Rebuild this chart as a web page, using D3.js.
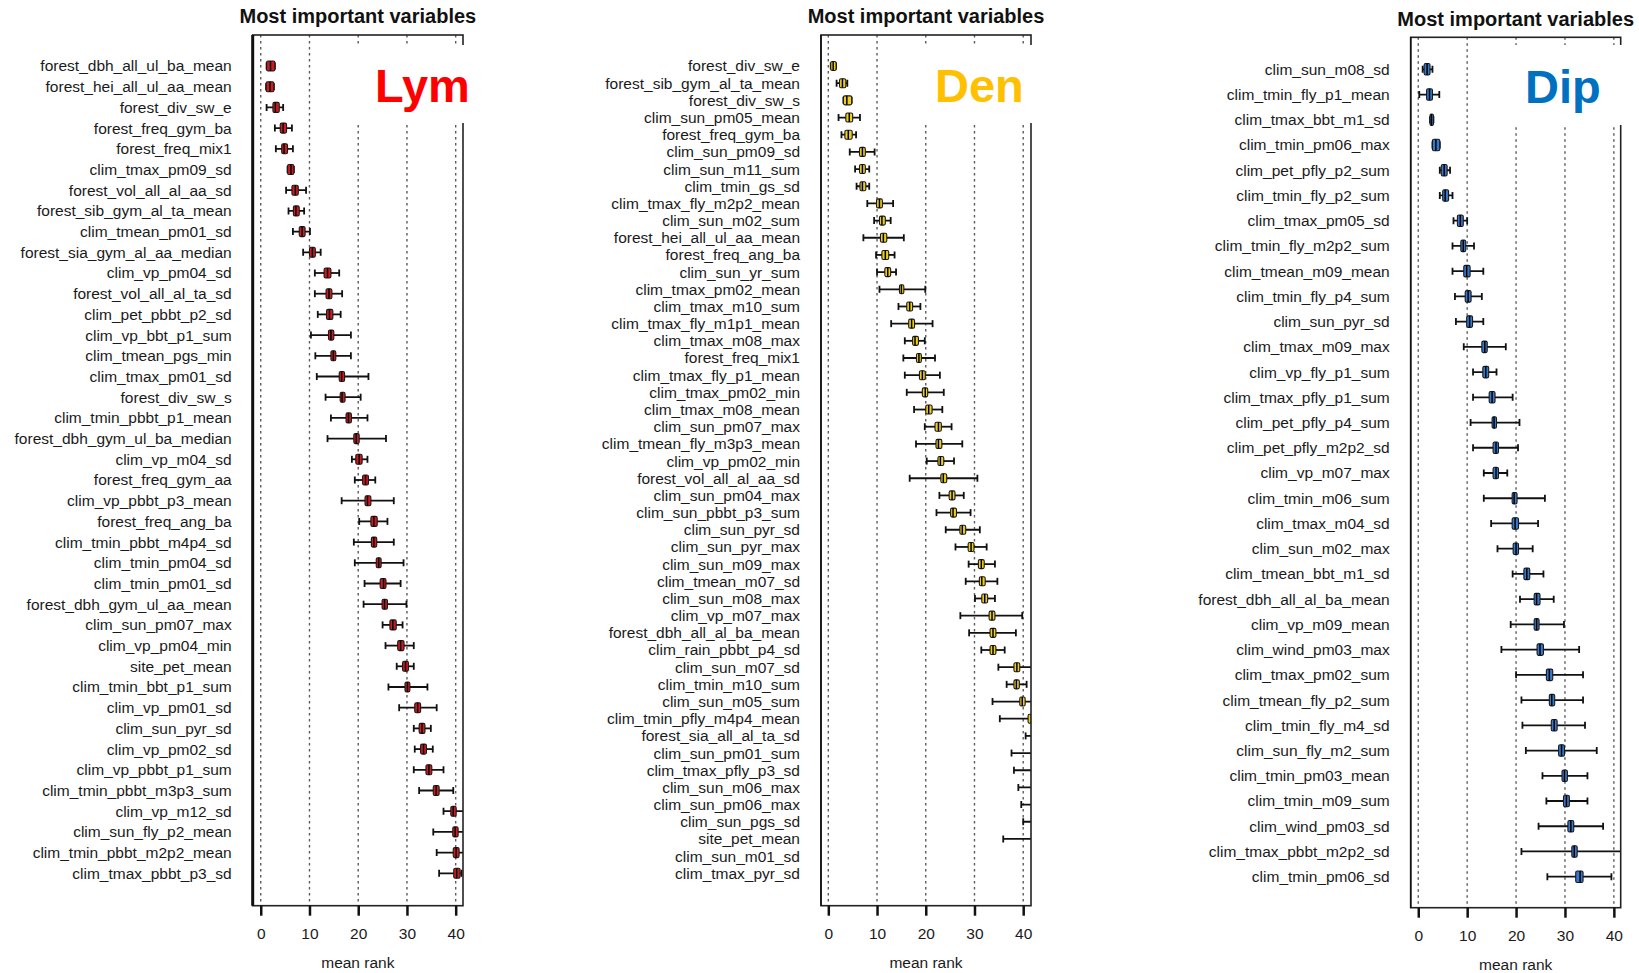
<!DOCTYPE html>
<html>
<head>
<meta charset="utf-8">
<script src="https://cdn.jsdelivr.net/npm/d3@7"></script>
<style>
	body { margin: 0; background: #fff; }
	svg { display: block; font-family: "Liberation Sans", Arial, sans-serif; }
	.lab text { fill: #1a1a1a; font-size: 15.5px; }
	.xax text { fill: #1a1a1a; font-size: 15.5px; }
</style>
</head>
<body>
<div id="chartDiv"></div>
<script>
;(function() {

	var width = 1639;
	var height = 973;

	var rankTicks = [0, 10, 20, 30, 40];

	// stats rows: [whisker low, q1, median, q3, whisker high]
	var lymLabels = ["forest_dbh_all_ul_ba_mean", "forest_hei_all_ul_aa_mean", "forest_div_sw_e", "forest_freq_gym_ba",
		"forest_freq_mix1", "clim_tmax_pm09_sd", "forest_vol_all_al_aa_sd", "forest_sib_gym_al_ta_mean",
		"clim_tmean_pm01_sd", "forest_sia_gym_al_aa_median", "clim_vp_pm04_sd", "forest_vol_all_al_ta_sd",
		"clim_pet_pbbt_p2_sd", "clim_vp_bbt_p1_sum", "clim_tmean_pgs_min", "clim_tmax_pm01_sd",
		"forest_div_sw_s", "clim_tmin_pbbt_p1_mean", "forest_dbh_gym_ul_ba_median", "clim_vp_m04_sd",
		"forest_freq_gym_aa", "clim_vp_pbbt_p3_mean", "forest_freq_ang_ba", "clim_tmin_pbbt_m4p4_sd",
		"clim_tmin_pm04_sd", "clim_tmin_pm01_sd", "forest_dbh_gym_ul_aa_mean", "clim_sun_pm07_max",
		"clim_vp_pm04_min", "site_pet_mean", "clim_tmin_bbt_p1_sum", "clim_vp_pm01_sd",
		"clim_sun_pyr_sd", "clim_vp_pm02_sd", "clim_vp_pbbt_p1_sum", "clim_tmin_pbbt_m3p3_sum",
		"clim_vp_m12_sd", "clim_sun_fly_p2_mean", "clim_tmin_pbbt_m2p2_mean", "clim_tmax_pbbt_p3_sd"];
	var lymStats = [
		[1.2, 1.2, 2.0, 2.9, 2.9], [1.1, 1.1, 1.9, 2.7, 2.7], [1.2, 2.5, 3.0, 3.8, 4.6], [2.9, 4.0, 4.6, 5.3, 6.4],
		[3.1, 4.3, 4.8, 5.5, 6.6], [5.5, 5.5, 6.2, 6.8, 6.8], [5.2, 6.4, 7.1, 7.7, 9.3], [5.7, 6.7, 7.2, 7.9, 8.9],
		[6.6, 7.9, 8.5, 9.1, 10.1], [8.7, 10.0, 10.6, 11.2, 12.3], [11.1, 13.0, 13.7, 14.4, 16.1], [11.1, 13.4, 14.0, 14.6, 16.7],
		[11.7, 13.5, 14.1, 14.8, 16.4], [10.3, 13.9, 14.4, 15.0, 18.5], [11.2, 14.4, 14.9, 15.4, 18.5], [11.5, 16.1, 16.6, 17.2, 22.1],
		[13.3, 16.3, 16.7, 17.3, 20.5], [14.4, 17.5, 18.0, 18.6, 21.9], [13.7, 19.1, 19.6, 20.2, 25.7], [18.7, 19.5, 20.2, 20.8, 21.9],
		[19.3, 20.9, 21.5, 22.1, 23.5], [16.6, 21.4, 21.9, 22.6, 27.3], [20.2, 22.6, 23.2, 23.9, 26.0], [19.1, 22.7, 23.2, 23.8, 27.3],
		[19.3, 23.7, 24.2, 24.7, 29.3], [21.3, 24.5, 25.2, 25.7, 28.7], [21.1, 24.9, 25.4, 26.0, 29.9], [25.0, 26.5, 27.1, 27.8, 29.1],
		[25.6, 28.1, 28.7, 29.4, 31.4], [27.9, 29.1, 29.7, 30.3, 31.4], [26.2, 29.6, 30.1, 30.6, 34.2], [28.4, 31.6, 32.2, 32.8, 36.1],
		[31.4, 32.5, 33.1, 33.7, 34.9], [31.6, 32.8, 33.4, 34.0, 35.3], [31.4, 33.9, 34.5, 35.1, 37.5], [32.5, 35.4, 36.0, 36.6, 39.5],
		[37.5, 39.0, 39.5, 40.1, 42.5], [35.4, 39.4, 39.9, 40.5, 42.5], [36.1, 39.5, 40.1, 40.7, 42.5], [36.6, 39.6, 40.2, 40.9, 41.2]];

	var denLabels = ["forest_div_sw_e", "forest_sib_gym_al_ta_mean", "forest_div_sw_s", "clim_sun_pm05_mean",
		"forest_freq_gym_ba", "clim_sun_pm09_sd", "clim_sun_m11_sum", "clim_tmin_gs_sd",
		"clim_tmax_fly_m2p2_mean", "clim_sun_m02_sum", "forest_hei_all_ul_aa_mean", "forest_freq_ang_ba",
		"clim_sun_yr_sum", "clim_tmax_pm02_mean", "clim_tmax_m10_sum", "clim_tmax_fly_m1p1_mean",
		"clim_tmax_m08_max", "forest_freq_mix1", "clim_tmax_fly_p1_mean", "clim_tmax_pm02_min",
		"clim_tmax_m08_mean", "clim_sun_pm07_max", "clim_tmean_fly_m3p3_mean", "clim_vp_pm02_min",
		"forest_vol_all_al_aa_sd", "clim_sun_pm04_max", "clim_sun_pbbt_p3_sum", "clim_sun_pyr_sd",
		"clim_sun_pyr_max", "clim_sun_m09_max", "clim_tmean_m07_sd", "clim_sun_m08_max",
		"clim_vp_m07_max", "forest_dbh_all_al_ba_mean", "clim_rain_pbbt_p4_sd", "clim_sun_m07_sd",
		"clim_tmin_m10_sum", "clim_sun_m05_sum", "clim_tmin_pfly_m4p4_mean", "forest_sia_all_al_ta_sd",
		"clim_sun_pm01_sum", "clim_tmax_pfly_p3_sd", "clim_sun_m06_max", "clim_sun_pm06_max",
		"clim_sun_pgs_sd", "site_pet_mean", "clim_sun_m01_sd", "clim_tmax_pyr_sd"];
	var denStats = [
		[0.5, 0.5, 1.0, 1.6, 1.6], [1.7, 2.3, 2.9, 3.6, 3.9], [3.1, 3.1, 3.8, 4.8, 4.8], [2.1, 3.6, 4.3, 5.0, 6.5],
		[2.7, 3.4, 4.1, 4.9, 5.7], [4.4, 6.4, 7.0, 7.6, 9.5], [5.5, 6.4, 7.0, 7.6, 8.4], [5.8, 6.5, 7.0, 7.7, 8.4],
		[8.0, 9.9, 10.5, 11.1, 13.3], [9.4, 10.5, 11.0, 11.7, 12.8], [7.2, 10.7, 11.3, 12.0, 15.5], [9.8, 11.0, 11.7, 12.4, 13.6],
		[10.0, 11.6, 12.2, 12.8, 13.9], [10.5, 14.6, 15.0, 15.5, 19.9], [14.4, 16.1, 16.7, 17.3, 18.9], [12.9, 16.5, 17.1, 17.7, 21.4],
		[15.7, 17.3, 17.8, 18.5, 19.8], [15.4, 18.1, 18.6, 19.1, 21.9], [15.7, 18.7, 19.3, 19.9, 22.9], [16.1, 19.3, 19.9, 20.4, 23.7],
		[17.6, 20.0, 20.6, 21.3, 23.4], [19.8, 21.9, 22.6, 23.2, 25.3], [18.0, 22.1, 22.6, 23.3, 27.5], [20.2, 22.5, 23.0, 23.7, 25.8],
		[16.7, 23.1, 23.6, 24.3, 30.6], [22.8, 24.8, 25.4, 26.0, 27.8], [22.2, 25.1, 25.6, 26.3, 29.2], [24.1, 27.0, 27.5, 28.2, 31.1],
		[26.1, 28.7, 29.3, 29.9, 32.5], [28.8, 30.8, 31.4, 32.0, 34.2], [28.2, 31.0, 31.5, 32.2, 34.7], [30.1, 31.5, 32.1, 32.7, 34.2],
		[27.1, 33.0, 33.6, 34.2, 39.8], [28.9, 33.2, 33.8, 34.4, 38.5], [31.4, 33.2, 33.8, 34.4, 36.2], [34.9, 38.1, 38.7, 39.3, 42.5],
		[36.6, 38.1, 38.6, 39.2, 40.7], [33.7, 39.3, 39.8, 40.4, 42.0], [35.2, 41.0, 41.7, 42.5, 43.5], [40.5, 42.0, 43.0, 44.0, 45.0],
		[37.6, 43.0, 44.0, 45.0, 46.0], [38.1, 43.5, 44.5, 45.5, 46.5], [39.0, 44.0, 45.0, 46.0, 47.0], [39.6, 44.0, 45.0, 46.0, 47.0],
		[40.0, 45.0, 46.0, 47.0, 48.0], [35.9, 45.0, 46.0, 47.0, 48.0], [44.0, 46.0, 46.5, 47.0, 48.0], [44.0, 46.0, 46.5, 47.0, 48.0]];

	var dipLabels = ["clim_sun_m08_sd", "clim_tmin_fly_p1_mean", "clim_tmax_bbt_m1_sd", "clim_tmin_pm06_max",
		"clim_pet_pfly_p2_sum", "clim_tmin_fly_p2_sum", "clim_tmax_pm05_sd", "clim_tmin_fly_m2p2_sum",
		"clim_tmean_m09_mean", "clim_tmin_fly_p4_sum", "clim_sun_pyr_sd", "clim_tmax_m09_max",
		"clim_vp_fly_p1_sum", "clim_tmax_pfly_p1_sum", "clim_pet_pfly_p4_sum", "clim_pet_pfly_m2p2_sd",
		"clim_vp_m07_max", "clim_tmin_m06_sum", "clim_tmax_m04_sd", "clim_sun_m02_max",
		"clim_tmean_bbt_m1_sd", "forest_dbh_all_al_ba_mean", "clim_vp_m09_mean", "clim_wind_pm03_max",
		"clim_tmax_pm02_sum", "clim_tmean_fly_p2_sum", "clim_tmin_fly_m4_sd", "clim_sun_fly_m2_sum",
		"clim_tmin_pm03_mean", "clim_tmin_m09_sum", "clim_wind_pm03_sd", "clim_tmax_pbbt_m2p2_sd",
		"clim_tmin_pm06_sd"];
	var dipStats = [
		[0.9, 1.2, 1.8, 2.4, 2.9], [0.2, 1.7, 2.3, 2.9, 4.3], [2.4, 2.4, 2.7, 3.1, 3.1], [2.9, 2.9, 3.6, 4.4, 4.4],
		[4.4, 4.7, 5.3, 5.9, 6.5], [4.4, 5.0, 5.5, 6.2, 7.0], [7.2, 8.0, 8.6, 9.2, 10.0], [7.0, 8.7, 9.2, 9.7, 11.4],
		[7.0, 9.3, 9.9, 10.6, 13.3], [7.5, 9.6, 10.2, 10.8, 13.0], [7.7, 9.9, 10.5, 11.1, 13.3], [9.3, 13.0, 13.6, 14.1, 17.9],
		[11.2, 13.2, 13.8, 14.4, 16.0], [11.2, 14.5, 15.1, 15.7, 19.3], [10.7, 15.1, 15.5, 16.0, 20.7], [11.2, 15.3, 15.9, 16.4, 20.4],
		[13.4, 15.3, 15.9, 16.4, 18.2], [13.4, 19.2, 19.6, 20.2, 25.9], [14.9, 19.2, 19.8, 20.5, 24.5], [16.2, 19.4, 20.0, 20.5, 23.4],
		[19.3, 21.6, 22.2, 22.8, 25.6], [20.8, 23.7, 24.2, 24.9, 27.7], [18.9, 23.7, 24.2, 24.7, 29.8], [17.0, 24.3, 24.9, 25.6, 32.9],
		[20.0, 26.2, 26.8, 27.5, 33.7], [21.1, 26.8, 27.3, 27.9, 33.7], [21.3, 27.2, 27.8, 28.4, 34.1], [22.0, 28.7, 29.3, 29.9, 36.5],
		[25.4, 29.4, 29.9, 30.5, 34.6], [26.2, 29.7, 30.3, 30.9, 34.6], [24.6, 30.6, 31.2, 31.8, 37.8], [21.1, 31.4, 31.9, 32.5, 43.0],
		[26.4, 32.2, 33.1, 33.7, 39.5]];

	var panels = [
		{ id: "lym", tag: "Lym", tagColor: "#ff0000", fill: "#d01a22", labels: lymLabels, stats: lymStats,
			left: 252.7, right: 463, top: 35, bottom: 905.7, xMin: -1.65, xMax: 41.5,
			rowTop: 66, rowBottom: 873.3, boxH: 10, titleY: 23, tagX: 375, tagY: 102,
			cover: [343, 45, 140, 78], leftBorder: 3 },
		{ id: "den", tag: "Den", tagColor: "#ffc000", fill: "#f0cf1c", labels: denLabels, stats: denStats,
			left: 821, right: 1031, top: 35, bottom: 905.7, xMin: -1.5, xMax: 41.6,
			rowTop: 66, rowBottom: 873.3, boxH: 9, titleY: 22.5, tagX: 935, tagY: 102,
			cover: [905, 45, 140, 78], leftBorder: 1.5 },
		{ id: "dip", tag: "Dip", tagColor: "#0070c0", fill: "#3579cc", labels: dipLabels, stats: dipStats,
			left: 1410.7, right: 1620.7, top: 37.3, bottom: 907.7, xMin: -1.55, xMax: 41.4,
			rowTop: 69.3, rowBottom: 876.7, boxH: 11.5, titleY: 26, tagX: 1525, tagY: 103,
			cover: [1500, 45, 139, 80], leftBorder: 1.5 }
	];

	var svg = d3.select("#chartDiv").append("svg")
		.attr("width", width)
		.attr("height", height);

	panels.forEach(drawPanel);

	function drawPanel(p) {
		var g = svg.append("g").attr("class", "panel-" + p.id);

		var xScale = d3.scaleLinear()
			.domain([p.xMin, p.xMax])
			.range([p.left, p.right]);

		var yScale = d3.scalePoint()
			.domain(p.labels)
			.range([p.rowTop, p.rowBottom]);

		g.append("clipPath").attr("id", "clip-" + p.id)
			.append("rect")
			.attr("x", p.left).attr("y", p.top)
			.attr("width", p.right - p.left).attr("height", p.bottom - p.top);

		// dotted grid
		g.append("g").selectAll("line")
			.data(rankTicks)
			.enter().append("line")
				.attr("x1", function(d) { return xScale(d); })
				.attr("x2", function(d) { return xScale(d); })
				.attr("y1", p.top)
				.attr("y2", p.bottom)
				.style("stroke", "#5a5a5a")
				.style("stroke-width", 1.4)
				.style("stroke-dasharray", "2.5,3.5");

		// boxes
		var plot = g.append("g").attr("clip-path", "url(#clip-" + p.id + ")");
		var rows = plot.selectAll(".row")
			.data(p.stats)
			.enter().append("g")
				.attr("class", "row")
				.attr("transform", function(d, i) { return "translate(0," + yScale(p.labels[i]) + ")"; });

		rows.append("line")
			.attr("x1", function(d) { return xScale(d[0]); })
			.attr("x2", function(d) { return xScale(d[4]); })
			.style("stroke", "#111")
			.style("stroke-width", 1.8);

		rows.append("line")
			.attr("x1", function(d) { return xScale(d[0]); })
			.attr("x2", function(d) { return xScale(d[0]); })
			.attr("y1", -3.5).attr("y2", 3.5)
			.style("stroke", "#111")
			.style("stroke-width", 1.8);

		rows.append("line")
			.attr("x1", function(d) { return xScale(d[4]); })
			.attr("x2", function(d) { return xScale(d[4]); })
			.attr("y1", -3.5).attr("y2", 3.5)
			.style("stroke", "#111")
			.style("stroke-width", 1.8);

		rows.append("rect")
			.attr("x", function(d) { return xScale(d[1]); })
			.attr("width", function(d) { return xScale(d[3]) - xScale(d[1]); })
			.attr("y", -p.boxH / 2)
			.attr("height", p.boxH)
			.attr("rx", 1.5)
			.style("fill", p.fill)
			.style("stroke", "#1a1a1a")
			.style("stroke-width", 1.1);

		rows.append("line")
			.attr("x1", function(d) { return xScale(d[2]); })
			.attr("x2", function(d) { return xScale(d[2]); })
			.attr("y1", -p.boxH / 2)
			.attr("y2", p.boxH / 2)
			.style("stroke", "#000")
			.style("stroke-width", 1.5);

		// plot frame
		g.append("rect")
			.attr("x", p.left).attr("y", p.top)
			.attr("width", p.right - p.left).attr("height", p.bottom - p.top)
			.style("fill", "none")
			.style("stroke", "#222")
			.style("stroke-width", 1.6);
		g.append("line")
			.attr("x1", p.left).attr("x2", p.left)
			.attr("y1", p.top).attr("y2", p.bottom)
			.style("stroke", "#111")
			.style("stroke-width", p.leftBorder);

		// variable names
		var yAxis = d3.axisLeft(yScale).tickSize(0).tickPadding(21);
		g.append("g")
			.attr("class", "lab")
			.attr("transform", "translate(" + p.left + ",0)")
			.call(yAxis)
			.call(function(s) { s.select(".domain").remove(); });

		// x axis
		var xAxis = d3.axisBottom(xScale).tickValues(rankTicks).tickSize(10).tickPadding(12);
		g.append("g")
			.attr("class", "xax")
			.attr("transform", "translate(0," + p.bottom + ")")
			.call(xAxis)
			.call(function(s) {
				s.select(".domain").remove();
				s.selectAll(".tick line").style("stroke", "#111").style("stroke-width", 2.5);
			});

		g.append("text")
			.attr("x", (p.left + p.right) / 2)
			.attr("y", p.bottom + 62)
			.attr("text-anchor", "middle")
			.style("font-size", "15.5px")
			.style("fill", "#1a1a1a")
			.text("mean rank");

		g.append("text")
			.attr("x", (p.left + p.right) / 2)
			.attr("y", p.titleY)
			.attr("text-anchor", "middle")
			.style("font-size", "20px")
			.style("font-weight", "bold")
			.style("fill", "#111")
			.text("Most important variables");

		// species tag on a white patch
		g.append("rect")
			.attr("x", p.cover[0]).attr("y", p.cover[1])
			.attr("width", p.cover[2]).attr("height", p.cover[3])
			.style("fill", "#fff");
		g.append("text")
			.attr("x", p.tagX)
			.attr("y", p.tagY)
			.style("font-size", "47px")
			.style("font-weight", "bold")
			.style("fill", p.tagColor)
			.text(p.tag);
	}

})();
</script>
</body>
</html>
